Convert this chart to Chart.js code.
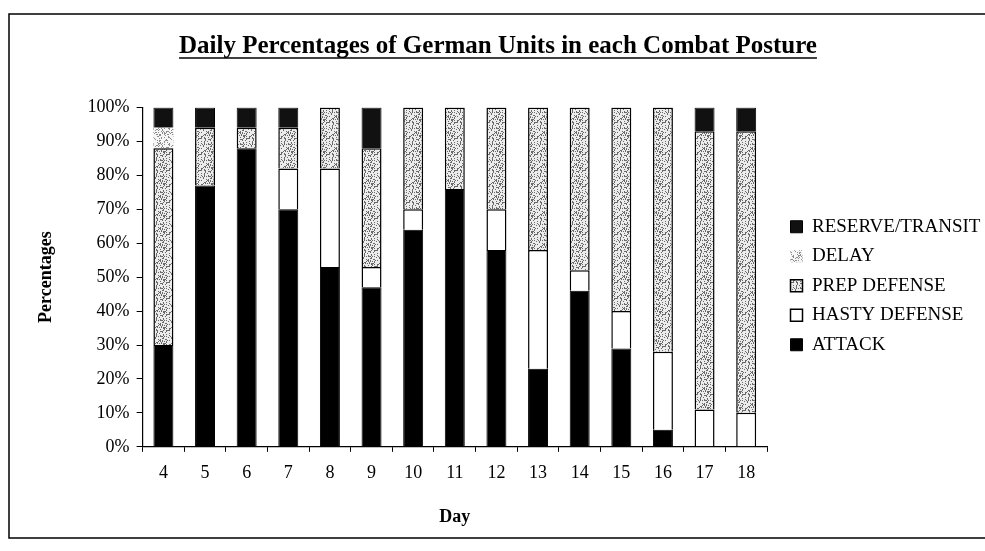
<!DOCTYPE html>
<html>
<head>
<meta charset="utf-8">
<script src="https://cdn.jsdelivr.net/npm/chart.js@4.4.1/dist/chart.umd.min.js"></script>
<style>
  html, body { margin: 0; padding: 0; background: #fff; }
  #wrap { width: 985px; height: 551px; position: relative; }
</style>
</head>
<body>
<div id="wrap"><canvas id="c" width="985" height="551"></canvas></div>
<script>
// ---- data ----
const days = ["4","5","6","7","8","9","10","11","12","13","14","15","16","17","18"];
const attack  = [30, 77, 88, 70, 53, 47, 64, 76, 58, 23, 46, 29,  5,  0,  0];
const hasty   = [ 0,  0,  0, 12, 29,  6,  6,  0, 12, 35,  6, 11, 23, 11, 10];
const prep    = [58, 17,  6, 12, 18, 35, 30, 24, 30, 42, 48, 60, 72, 82, 83];
const delay   = [ 6,  0,  0,  0,  0,  0,  0,  0,  0,  0,  0,  0,  0,  0,  0];
const reserve = [ 6,  6,  6,  6,  0, 12,  0,  0,  0,  0,  0,  0,  0,  7,  7];
const titleText = "Daily Percentages of German Units in each Combat Posture";

// ---- speckle textures (style only) ----
function speckle(base, dot, density, seed) {
  const c = document.createElement('canvas');
  c.width = 16; c.height = 16;
  const g = c.getContext('2d');
  g.fillStyle = base; g.fillRect(0, 0, 16, 16);
  g.fillStyle = dot;
  let s = seed;
  for (let y = 0; y < 16; y++) {
    for (let x = 0; x < 16; x++) {
      s = (s * 1103515245 + 12345) & 0x7fffffff;
      if ((s % 1000) / 1000 < density) g.fillRect(x, y, 1, 1);
    }
  }
  return g.createPattern(c, 'repeat');
}
const ctx = document.getElementById('c').getContext('2d');
const prepFill = speckle('#ececec', '#6a6a6a', 0.32, 7);
const delayFill = speckle('#f6f6f6', '#8c8c8c', 0.22, 13);

const FONT = "'Liberation Serif', 'Times New Roman', serif";
const TITLE_SIZE = 25, TITLE_PAD_TOP = 22;

const framePlugin = {
  id: 'frame',
  beforeDraw(chart) {
    const c = chart.ctx;
    c.save();
    c.fillStyle = '#fff';
    c.fillRect(0, 0, chart.width, chart.height);
    c.strokeStyle = '#000';
    c.lineWidth = 1.5;
    c.beginPath();
    c.moveTo(985, 14); c.lineTo(9, 14); c.lineTo(9, 538); c.lineTo(985, 538);
    c.stroke();
    c.restore();
  },
  afterDraw(chart) {
    const tb = chart.titleBlock;
    if (!tb) return;
    const c = chart.ctx;
    c.save();
    c.font = "bold " + TITLE_SIZE + "px " + FONT;
    const w = c.measureText(titleText).width;
    const cx = (tb.left + tb.right) / 2;
    const y = tb.top + TITLE_PAD_TOP + TITLE_SIZE * 1.2 / 2 + TITLE_SIZE * 0.44;
    c.strokeStyle = '#000';
    c.lineWidth = 1.6;
    c.beginPath();
    c.moveTo(cx - w / 2, y);
    c.lineTo(cx + w / 2, y);
    c.stroke();
    c.restore();
  }
};

new Chart(ctx, {
  type: 'bar',
  data: {
    labels: days,
    datasets: [
      { label: 'ATTACK', data: attack, backgroundColor: '#000', borderColor: '#000', borderWidth: 1 },
      { label: 'HASTY DEFENSE', data: hasty, backgroundColor: '#fff', borderColor: '#000', borderWidth: 1.5 },
      { label: 'PREP DEFENSE', data: prep, backgroundColor: prepFill, borderColor: '#000', borderWidth: 1.5 },
      { label: 'DELAY', data: delay, backgroundColor: delayFill, borderColor: '#bbb', borderWidth: 0 },
      { label: 'RESERVE/TRANSIT', data: reserve, backgroundColor: '#111', borderColor: '#000', borderWidth: 1 }
    ]
  },
  options: {
    responsive: false,
    animation: false,
    devicePixelRatio: 1,
    layout: { padding: { left: 11, right: 0, top: 10, bottom: 23 } },
    datasets: { bar: { barPercentage: 0.48, categoryPercentage: 1.0 } },
    scales: {
      x: {
        stacked: true,
        offset: true,
        grid: { offset: true, drawOnChartArea: false, drawTicks: true, tickLength: 5, color: '#000' },
        border: { color: '#000', width: 1.2 },
        ticks: { color: '#000', font: { family: FONT, size: 18 }, padding: 11, maxRotation: 0 },
        title: { display: true, text: 'Day', color: '#000', font: { family: FONT, size: 18, weight: 'bold' }, padding: { top: 11, bottom: 0 } }
      },
      y: {
        stacked: true,
        min: 0, max: 100,
        ticks: { stepSize: 10, color: '#000', font: { family: FONT, size: 18 }, padding: 7, callback: v => v + '%' },
        grid: { drawOnChartArea: false, drawTicks: true, tickLength: 6, color: '#000' },
        border: { color: '#000', width: 1.2 },
        title: { display: true, text: 'Percentages', color: '#000', font: { family: FONT, size: 18, weight: 'bold' }, padding: { top: 25, bottom: 23 } }
      },
      gap: {
        type: 'linear',
        position: 'right',
        display: true,
        grid: { display: false },
        border: { display: false },
        ticks: { display: false },
        afterFit(scale) { scale.width = 13; }
      }
    },
    plugins: {
      title: {
        display: true, text: titleText, color: '#000',
        font: { family: FONT, size: TITLE_SIZE, weight: 'bold' },
        padding: { top: TITLE_PAD_TOP, bottom: 45.5 }
      },
      legend: {
        position: 'right',
        reverse: true,
        maxWidth: 205,
        title: { display: true, text: ' ', font: { size: 10 }, padding: 10.75 },
        labels: {
          color: '#000',
          font: { family: FONT, size: 19 },
          boxWidth: 12, boxHeight: 12,
          padding: 10.5
        }
      },
      tooltip: { enabled: false }
    }
  },
  plugins: [framePlugin]
});
</script>
</body>
</html>
